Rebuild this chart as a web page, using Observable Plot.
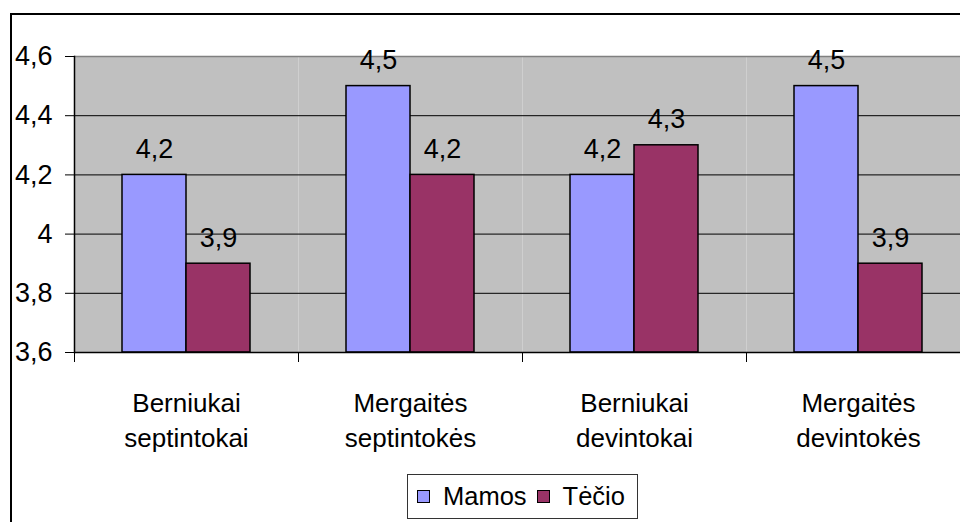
<!DOCTYPE html>
<html><head><meta charset="utf-8">
<script src="https://cdn.jsdelivr.net/npm/d3@7"></script>
<script src="https://cdn.jsdelivr.net/npm/@observablehq/plot@0.6"></script>
<style>
html,body{margin:0;padding:0;background:#fff;overflow:hidden;}
#wrap{position:relative;width:960px;height:522px;overflow:hidden;font-family:"Liberation Sans",Arial,sans-serif;background:#fff;}
#wrap > svg{position:absolute;left:0;top:0;}
#border{position:absolute;left:10px;top:13px;width:1000px;height:600px;border:2px solid #000;pointer-events:none;}
#legend{position:absolute;left:407px;top:474px;width:231px;height:45px;border:1px solid #333;box-sizing:border-box;display:flex;align-items:center;padding-left:9px;background:#fff;}
#legend .lg-swatches{margin:0 !important;font-family:"Liberation Sans",Arial,sans-serif !important;font-size:25.5px !important;color:#000 !important;display:flex !important;align-items:center;min-height:0 !important;}
#legend .lg-swatch{margin-right:10px !important;display:inline-flex;align-items:center;}
#legend .lg-swatch > svg{margin-right:13px !important;border:1px solid #000;}
</style></head><body><div id="wrap"></div>
<script>
const categories = ["Berniukai\nseptintokai", "Mergaitės\nseptintokės", "Berniukai\ndevintokai", "Mergaitės\ndevintokės"];
const seriesNames = ["Mamos", "Tėčio"];
const mamosValues = [4.2, 4.5, 4.2, 4.5];
const tecioValues = [3.9, 4.2, 4.3, 3.9];
const seriesColors = ["#9999FF", "#993366"];
const yDomain = [3.6, 4.6];
const yTicks = [3.6, 3.8, 4.0, 4.2, 4.4, 4.6];
const gridValues = [3.8, 4.0, 4.2, 4.4];

const data = categories.flatMap((c, i) => [
  {category: c, series: seriesNames[0], value: mamosValues[i]},
  {category: c, series: seriesNames[1], value: tecioValues[i]}
]);

const fmt = v => String(+(+v).toFixed(1)).replace(".", ",");
const W = 960, H = 522, mL = 74, mR = -10, mT = 56, mB = 170;
const half = (W - mL - mR) / categories.length / 2;
const font = "Liberation Sans, Arial, sans-serif";

const chart = Plot.plot({
  width: W, height: H,
  marginLeft: mL, marginRight: mR, marginTop: mT, marginBottom: mB,
  style: {fontFamily: font, fontSize: "26px", color: "#000", background: "transparent", overflow: "visible"},
  fx: {domain: categories, padding: 0, label: null},
  x: {domain: seriesNames, paddingInner: 0, paddingOuter: 0.736, axis: null},
  y: {domain: yDomain, label: null},
  color: {domain: seriesNames, range: seriesColors},
  marks: [
    Plot.frame({fill: "#C0C0C0", stroke: null}),
    Plot.ruleY(gridValues, {stroke: "#000", strokeWidth: 1}),
    Plot.ruleY([yDomain[1]], {stroke: "#808080", strokeWidth: 1.5}),
    Plot.barY(data, {fx: "category", x: "series", y1: yDomain[0], y2: "value", fill: "series", stroke: "#000", strokeWidth: 1.5}),
    Plot.text(data, {fx: "category", x: "series", y: "value", text: d => fmt(d.value), lineAnchor: "bottom", dy: -17, fontSize: 27, fill: "#000"}),
    Plot.ruleY([yDomain[0]], {stroke: "#000", strokeWidth: 1.5}),
    Plot.axisY({ticks: yTicks, tickFormat: fmt, tickSize: 9, tickPadding: 13, fontSize: 27, label: null, stroke: "#000", fill: "#000"}),
    Plot.frame({facet: "super", anchor: "left", stroke: "#000", strokeWidth: 1.5}),
    Plot.axisFx({anchor: "bottom", tickSize: 10, tickFormat: () => "", dx: -half, label: null, stroke: "#000"}),
    Plot.axisFx({anchor: "bottom", tickSize: 0, tickPadding: 34.5, fontSize: 26, lineHeight: 1.35, label: null, fill: "#000"})
  ]
});

const wrap = document.getElementById("wrap");
wrap.appendChild(chart);
const border = document.createElement("div");
border.id = "border";
wrap.appendChild(border);
const legendBox = document.createElement("div");
legendBox.id = "legend";
legendBox.appendChild(Plot.legend({color: {domain: seriesNames, range: seriesColors}, swatchSize: 11, className: "lg"}));
wrap.appendChild(legendBox);
</script>
</body></html>
